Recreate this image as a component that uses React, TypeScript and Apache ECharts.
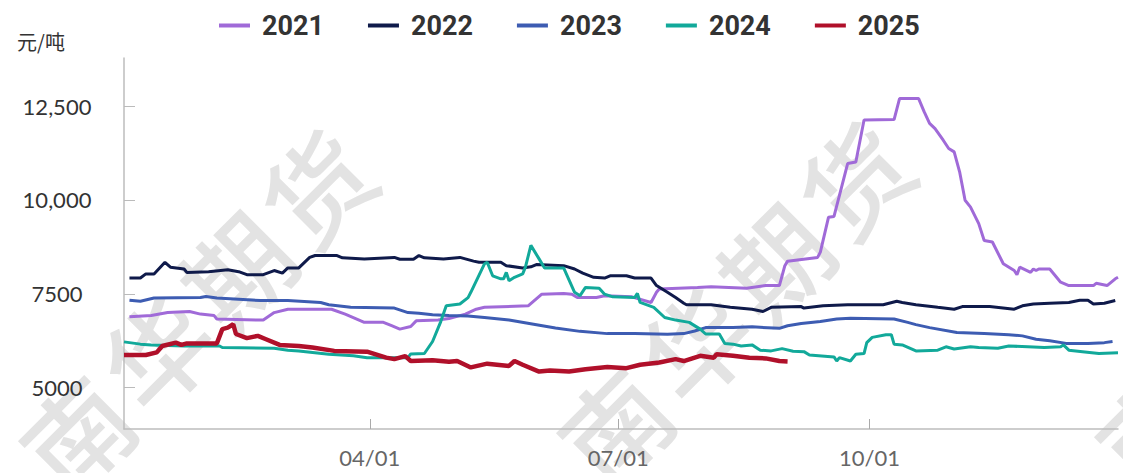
import React, { useEffect, useRef } from "react";
import * as echarts from "echarts";

// ---- data (dates as MM-DD on a common calendar year) ----
const years = ["2021", "2022", "2023", "2024", "2025"];
const colors = ["#a06ad8", "#0f1a4a", "#3d5cb2", "#12a99a", "#b0102a"];

const d2021 = ["01-03","01-11","01-17","01-25","01-29","02-03","02-04","02-21","02-25","03-02","03-18","03-23","03-30","04-06","04-09","04-12","04-16","04-18","04-26","04-30","05-06","05-10","05-13","05-29","06-03","06-11","06-14","06-16","06-23","06-26","07-06","07-13","07-15","07-16","07-30","08-04","08-17","08-24","08-29","08-31","09-01","09-12","09-13","09-16","09-18","09-23","09-26","09-29","10-10","10-12","10-19","10-21","10-23","10-25","10-28","10-30","11-01","11-03","11-05","11-07","11-10","11-12","11-15","11-19","11-23","11-24","11-25","11-29","11-30","12-01","12-02","12-06","12-10","12-13","12-22","12-23","12-27","12-30","12-31"];
const v2021 = [6890,6920,7000,7030,6960,6920,6830,6800,7000,7090,7090,6960,6740,6740,6650,6560,6630,6780,6800,6840,6960,7090,7140,7180,7490,7510,7490,7400,7400,7450,7420,7270,7540,7630,7670,7690,7650,7720,7720,8250,8370,8470,8610,9540,9560,10970,11010,12130,12140,12700,12700,12350,12040,11900,11590,11370,11280,10750,9990,9810,9370,8920,8880,8300,8120,8010,8210,8070,8160,8120,8160,8160,7810,7720,7720,7780,7720,7900,7940];

const d2022 = ["01-03","01-07","01-09","01-12","01-16","01-18","01-23","01-24","02-01","02-08","02-12","02-15","02-21","02-25","02-28","03-02","03-06","03-10","03-12","03-20","03-22","03-30","04-10","04-12","04-17","04-19","04-21","04-28","05-04","05-06","05-09","05-11","05-19","05-21","05-27","05-30","06-01","06-11","06-15","06-18","06-22","06-26","06-28","07-04","07-07","07-13","07-15","07-19","07-22","07-25","07-26","08-04","08-11","08-19","08-23","08-26","09-06","09-07","09-14","09-23","10-06","10-11","10-13","10-18","10-26","11-01","11-04","11-14","11-23","11-26","11-30","12-06","12-13","12-17","12-20","12-22","12-26","12-30"];
const v2022 = [7920,7920,8030,8030,8340,8210,8160,8070,8090,8140,8090,8010,8010,8120,8050,8190,8190,8470,8520,8520,8460,8430,8470,8420,8420,8520,8460,8430,8470,8430,8370,8340,8340,8250,8190,8220,8280,8250,8160,8050,7940,7920,7980,7980,7920,7920,7720,7540,7400,7250,7210,7210,7140,7090,7030,7140,7160,7120,7180,7210,7210,7300,7270,7210,7140,7090,7160,7160,7090,7180,7230,7250,7270,7330,7330,7230,7250,7320];

const d2023 = ["01-03","01-07","01-12","01-29","01-31","02-04","02-20","03-02","03-14","03-17","03-25","04-10","04-15","04-19","04-24","04-30","05-07","05-13","05-22","05-31","06-08","06-17","06-27","07-07","07-19","07-25","07-29","08-02","08-12","08-19","08-29","09-01","09-06","09-13","09-19","09-24","10-10","10-15","10-18","10-23","11-02","11-12","11-21","11-26","12-01","12-06","12-12","12-20","12-26","12-29"];
const v2023 = [7330,7300,7390,7400,7430,7390,7320,7320,7270,7210,7140,7120,7000,6980,6940,6920,6910,6870,6800,6690,6590,6500,6440,6440,6420,6440,6510,6600,6600,6620,6580,6650,6710,6760,6830,6850,6830,6740,6680,6600,6470,6440,6410,6380,6290,6250,6180,6180,6200,6230];

const d2024 = ["01-01","01-07","01-11","01-23","02-05","02-06","02-25","03-02","03-06","03-17","03-26","03-31","04-12","04-15","04-16","04-21","04-24","04-27","04-29","05-04","05-07","05-08","05-13","05-14","05-16","05-19","05-20","05-21","05-22","05-24","05-27","05-28","05-30","06-02","06-04","06-11","06-15","06-17","06-19","06-24","06-26","06-29","07-07","07-08","07-09","07-14","07-18","07-22","07-27","07-31","08-02","08-07","08-09","08-12","08-15","08-19","08-22","08-26","08-30","09-03","09-07","09-09","09-18","09-19","09-20","09-24","09-26","09-29","09-30","10-02","10-07","10-09","10-10","10-13","10-18","10-26","10-29","11-01","11-07","11-10","11-17","11-21","11-28","12-04","12-10","12-11","12-13","12-18","12-24","12-31"];
const v2024 = [6220,6160,6140,6110,6110,6070,6050,6000,5980,5890,5850,5800,5800,5800,5900,5910,6230,6760,7180,7230,7400,7540,8300,8340,7980,7900,7900,8070,7850,7940,8030,8210,8790,8430,8190,8190,7540,7450,7670,7650,7490,7420,7400,7510,7270,7140,6870,6800,6740,6560,6430,6430,6180,6160,6110,6140,6000,5980,6040,5970,5960,5870,5820,5710,5800,5710,5890,5910,6200,6340,6410,6410,6160,6140,5980,6000,6090,6030,6090,6070,6050,6110,6090,6070,6090,6140,6000,5960,5910,5930];

const d2025 = ["01-01","01-09","01-13","01-15","01-20","01-22","01-24","02-04","02-06","02-08","02-10","02-11","02-15","02-19","02-22","02-27","03-06","03-11","03-19","03-31","04-07","04-10","04-14","04-16","04-24","04-30","05-03","05-08","05-14","05-22","05-24","05-27","06-02","06-06","06-13","06-19","06-27","07-04","07-09","07-16","07-22","07-25","07-31","08-05","08-06","08-12","08-18","08-24","08-29","09-01"];
const v2025 = [5870,5870,5940,6110,6200,6140,6180,6180,6560,6600,6690,6430,6320,6380,6290,6140,6110,6070,5980,5960,5800,5760,5840,5710,5730,5690,5710,5540,5640,5580,5710,5610,5430,5460,5430,5490,5550,5520,5610,5670,5760,5710,5850,5800,5890,5850,5800,5780,5710,5700];

const seriesDates = [d2021, d2022, d2023, d2024, d2025];
const seriesVals = [v2021, v2022, v2023, v2024, v2025];
const lineWidths = [3, 3, 3, 3, 4.5];

const xTickDates = ["04-01", "07-01", "10-01"];
const yTicks = [5000, 7500, 10000, 12500];
const unitLabel = "元/吨";
const watermarkText = "南华期货";

// ---- helpers ----
const CUM = [0, 31, 59, 90, 120, 151, 181, 212, 243, 273, 304, 334];
const dayOf = (s: string) => {
  const [m, d] = s.split("-").map(Number);
  return CUM[m - 1] + d - 1;
};
const labelOf = (day: number) => {
  let m = 11;
  while (m > 0 && CUM[m] > day) m--;
  const d = day - CUM[m] + 1;
  return `${String(m + 1).padStart(2, "0")}/${String(d).padStart(2, "0")}`;
};
const fmtY = (v: number) => (v >= 10000 ? v.toLocaleString("en-US") : String(v));

// watermark anchors (first char centre), step along 45° diagonal
const wmAnchors = [
  [75, 432],
  [613, 424],
  [1151, 428],
];

export default function App() {
  const ref = useRef<HTMLDivElement>(null);
  useEffect(() => {
    if (!ref.current) return;
    const chart = echarts.init(ref.current, undefined, { renderer: "svg" });

    const wmEls: any[] = [];
    wmAnchors.forEach(([x0, y0]) => {
      watermarkText.split("").forEach((ch, i) => {
        wmEls.push({
          type: "text",
          x: x0 + i * 80,
          y: y0 - i * 82,
          rotation: Math.PI / 4,
          z: -10,
          silent: true,
          style: {
            text: ch,
            fontSize: 106,
            fontWeight: 500,
            fontFamily: "Noto Sans CJK SC",
            fill: "#e3e3e3",
            align: "center",
            verticalAlign: "middle",
          },
        });
      });
    });
    wmEls.push({
      type: "text",
      x: 41,
      y: 41,
      z: 10,
      style: {
        text: unitLabel,
        fontSize: 20,
        fontFamily: "Noto Sans CJK SC",
        fill: "#333",
        align: "center",
        verticalAlign: "middle",
      },
    });

    chart.setOption({
      animation: false,
      backgroundColor: "#ffffff",
      color: colors,
      graphic: { elements: wmEls },
      legend: {
        data: years,
        left: 219,
        top: 12,
        padding: 0,
        icon: "rect",
        itemWidth: 31,
        itemHeight: 4,
        itemGap: 44,
        textStyle: {
          fontFamily: "Roboto",
          fontSize: 27,
          fontWeight: "bold",
          color: "#333",
          padding: [0, 0, 0, 7],
        },
      },
      grid: { left: 124, right: 5, top: 58, bottom: 44, containLabel: false },
      xAxis: {
        type: "value",
        min: 0,
        max: 364,
        splitLine: { show: false },
        axisLine: { lineStyle: { color: "#bdbdbd", width: 1.5 } },
        axisTick: {
          inside: true,
          length: 10,
          customValues: xTickDates.map(dayOf),
          lineStyle: { color: "#aaa" },
        },
        axisLabel: {
          customValues: xTickDates.map(dayOf),
          formatter: (v: number) => labelOf(v),
          fontFamily: "Lato",
          fontSize: 22,
          color: "#666",
          margin: 17,
        },
      },
      yAxis: {
        type: "value",
        min: 3900,
        max: 13780,
        splitLine: { show: false },
        axisLine: { show: true, lineStyle: { color: "#bdbdbd", width: 1.5 } },
        axisTick: {
          show: true,
          inside: true,
          length: 11,
          customValues: yTicks,
          lineStyle: { color: "#bbb" },
        },
        axisLabel: {
          customValues: yTicks,
          formatter: (v: number) => fmtY(v),
          fontFamily: "Lato",
          fontSize: 22,
          color: "#333",
          align: "center",
          margin: 67,
        },
      },
      series: years.map((y, i) => ({
        name: y,
        type: "line",
        showSymbol: false,
        symbol: "none",
        z: 2 + i,
        lineStyle: { width: lineWidths[i], color: colors[i] },
        itemStyle: { color: colors[i] },
        data: seriesDates[i].map((s, k) => [dayOf(s), seriesVals[i][k]]),
      })),
    });
    return () => chart.dispose();
  }, []);
  return (
    <div
      ref={ref}
      style={{ position: "fixed", left: 0, top: 0, width: 1123, height: 473, background: "#fff" }}
    />
  );
}
